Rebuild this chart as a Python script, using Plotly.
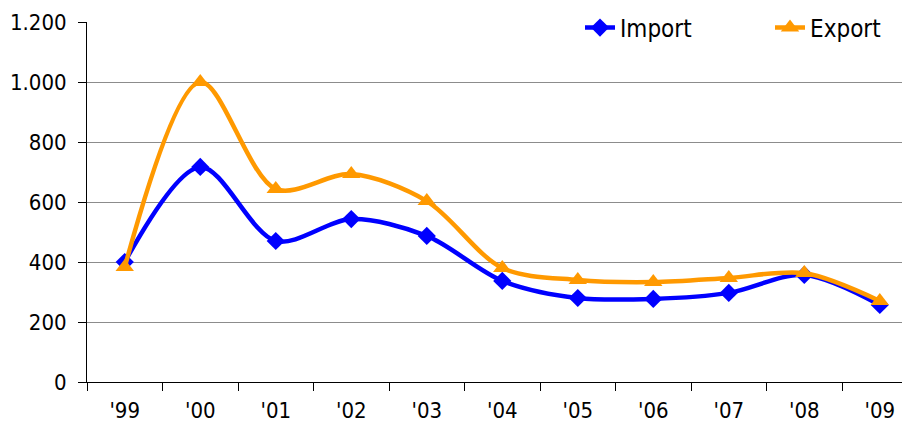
import plotly.graph_objects as go

years = ["'99", "'00", "'01", "'02", "'03", "'04", "'05", "'06", "'07", "'08", "'09"]
import_vals = [400, 717, 470, 543, 487, 337, 280, 277, 297, 357, 257]
export_vals = [383, 1000, 643, 693, 603, 380, 340, 333, 347, 363, 270]

FONT = "DejaVu Sans Condensed, Liberation Sans, DejaVu Sans"
# page body has an 8px default margin; compensate so the chart fills the window
W, H = 902, 419

fig = go.Figure()
fig.add_trace(go.Scatter(
    x=years, y=import_vals, name="Import", mode="lines+markers", legend="legend",
    line=dict(color="#0000FF", width=4.5, shape="spline", smoothing=0.9),
    marker=dict(symbol="diamond", size=14, color="#0000FF"),
))
fig.add_trace(go.Scatter(
    x=years, y=export_vals, name="Export", mode="lines+markers", legend="legend2",
    line=dict(color="#FF9900", width=4.5, shape="spline", smoothing=0.9),
    marker=dict(symbol="triangle-up", size=16, color="#FF9900"),
))

leg_common = dict(xref="container", yref="container", yanchor="middle",
                  y=1 - 20 / H, xanchor="left", font=dict(size=24, family=FONT),
                  bgcolor="rgba(255,255,255,0)", borderwidth=0)

fig.update_layout(
    width=W, height=H,
    margin=dict(l=79, r=0, t=14, b=45, autoexpand=False),
    paper_bgcolor="white", plot_bgcolor="white",
    font=dict(family=FONT, size=22, color="black"),
    separators=",.",
    legend=dict(x=572 / W, **leg_common),
    legend2=dict(x=762 / W, **leg_common),
    showlegend=True,
)
fig.update_xaxes(
    type="category", range=[-0.5, 10.4], tickson="boundaries",
    ticks="outside", ticklen=8, tickcolor="black", tickwidth=1,
    showline=True, linecolor="black", linewidth=1,
    showgrid=False, zeroline=False, automargin=False,
    tickfont=dict(size=22), ticklabelstandoff=9,
)
fig.update_yaxes(
    range=[0, 1200], tickvals=[0, 200, 400, 600, 800, 1000, 1200],
    tickformat=",d", ticks="outside", ticklen=8, tickcolor="black",
    showline=True, linecolor="black", linewidth=1, automargin=False,
    showgrid=True, gridcolor="#8c8c8c", gridwidth=1, zeroline=False,
    tickfont=dict(size=22), ticklabelstandoff=7,
)

fig.write_html("out.html")
